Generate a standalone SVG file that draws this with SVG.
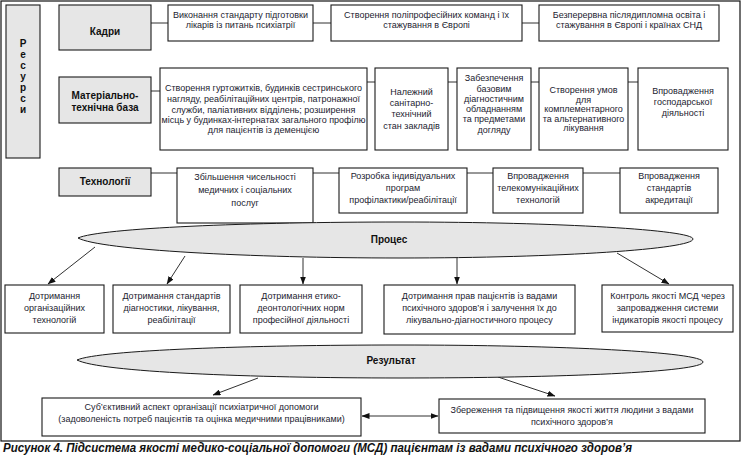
<svg xmlns="http://www.w3.org/2000/svg" width="742" height="460" viewBox="0 0 742 460">
<style>
.box{fill:#fff;stroke:#1a1a1a;stroke-width:1.1}
.lab{fill:#e6e6e6;stroke:#1a1a1a;stroke-width:1.1}
.ell{fill:#e6e6e6;stroke:#1a1a1a;stroke-width:1}
.t{font-family:"Liberation Sans",Arial,sans-serif;font-size:9px;fill:#1c1c30;text-anchor:middle}
.b{font-family:"Liberation Sans",Arial,sans-serif;font-size:10px;font-weight:bold;fill:#111;text-anchor:middle}
.c{fill:none;stroke:#1a1a1a;stroke-width:0.9}
</style>
<defs>
<marker id="ah" markerWidth="8" markerHeight="6" refX="7.5" refY="3" orient="auto-start-reverse" markerUnits="userSpaceOnUse">
<path d="M0,0 L8,3 L0,6 z" fill="#111"/>
</marker>
</defs>
<rect x="1" y="1" width="739" height="440" fill="#fff" stroke="#111" stroke-width="1.2"/>

<g id="connectors">
<path class="c" d="M151,23 H168 M313,23 H331 M522,23 H539"/>
<path class="c" d="M151,91 H160 M367,82 H375 M448,82 H457 M531,82 H539 M628,82 H638"/>
<path class="c" d="M151,173 H177 M313,173 H339 M467,173 H493 M583,173 H620"/>
<path class="c" d="M95,247 L48,284" marker-end="url(#ah)"/>
<path class="c" d="M185,256 L167,284" marker-end="url(#ah)"/>
<path class="c" d="M303,258 L303,284" marker-end="url(#ah)"/>
<path class="c" d="M457,258 L457,284" marker-end="url(#ah)"/>
<path class="c" d="M617,253 L669,284" marker-end="url(#ah)"/>
<path class="c" d="M258,378 L213,395" marker-end="url(#ah)"/>
<path class="c" d="M498,377 L555,396" marker-end="url(#ah)"/>
<path class="c" d="M362,416 L438,416" marker-start="url(#ah)" marker-end="url(#ah)"/>
</g>

<g id="resursy">
<rect class="lab" x="6" y="5" width="34" height="153"/>
<text class="b" font-size="13" x="23" y="47">Р</text>
<text class="b" font-size="13" x="23" y="58">е</text>
<text class="b" font-size="13" x="23" y="69">с</text>
<text class="b" font-size="13" x="23" y="80">у</text>
<text class="b" font-size="13" x="23" y="91">р</text>
<text class="b" font-size="13" x="23" y="102">с</text>
<text class="b" font-size="13" x="23" y="113">и</text>
</g>

<g id="kadry">
<rect class="lab" x="59" y="5" width="92" height="45"/>
<text class="b" x="105" y="35">Кадри</text>
</g>
<g id="k1">
<rect class="box" x="168" y="5" width="145" height="36"/>
<text class="t" x="240.5" y="18">Виконання стандарту підготовки</text>
<text class="t" x="240.5" y="28">лікарів із питань психіатрії</text>
</g>
<g id="k2">
<rect class="box" x="331" y="5" width="191" height="36"/>
<text class="t" x="426.5" y="18">Створення поліпрофесійних команд і їх</text>
<text class="t" x="426.5" y="28">стажування в Європі</text>
</g>
<g id="k3">
<rect class="box" x="539" y="5" width="180" height="36"/>
<text class="t" x="629" y="18">Безперервна післядипломна  освіта і</text>
<text class="t" x="629" y="28">стажування в Європі і країнах СНД</text>
</g>

<g id="mtb">
<rect class="lab" x="59" y="77" width="92" height="46"/>
<text class="b" x="105" y="99">Матеріально-</text>
<text class="b" x="105" y="111">технічна база</text>
</g>
<g id="m1">
<rect class="box" x="160" y="68" width="207" height="82"/>
<text class="t" x="263.5" y="91">Створення гуртожитків, будинків сестринського</text>
<text class="t" x="263.5" y="102">нагляду, реабілітаційних центрів, патронажної</text>
<text class="t" x="263.5" y="113">служби, паліативних відділень; розширення</text>
<text class="t" x="263.5" y="123">місць у будинках-інтернатах загального профілю</text>
<text class="t" x="263.5" y="133">для пацієнтів із деменцією</text>
</g>
<g id="m2">
<rect class="box" x="375" y="68" width="73" height="82"/>
<text class="t" x="411.5" y="95">Належний</text>
<text class="t" x="411.5" y="106">санітарно-</text>
<text class="t" x="411.5" y="117">технічний</text>
<text class="t" x="411.5" y="129">стан закладів</text>
</g>
<g id="m3">
<rect class="box" x="457" y="68" width="74" height="82"/>
<text class="t" x="494" y="81">Забезпечення</text>
<text class="t" x="494" y="92">базовим</text>
<text class="t" x="494" y="102">діагностичним</text>
<text class="t" x="494" y="112">обладнанням</text>
<text class="t" x="494" y="122">та предметами</text>
<text class="t" x="494" y="133">догляду</text>
</g>
<g id="m4">
<rect class="box" x="539" y="68" width="89" height="82"/>
<text class="t" x="583.5" y="93">Створення умов</text>
<text class="t" x="583.5" y="103">для</text>
<text class="t" x="583.5" y="112">комплементарного</text>
<text class="t" x="583.5" y="122">та альтернативного</text>
<text class="t" x="583.5" y="131">лікування</text>
</g>
<g id="m5">
<rect class="box" x="638" y="68" width="90" height="82"/>
<text class="t" font-size="10" x="683" y="94">Впровадження</text>
<text class="t" font-size="10" x="683" y="105">господарської</text>
<text class="t" font-size="10" x="683" y="116">діяльності</text>
</g>

<g id="tech">
<rect class="lab" x="59" y="168" width="92" height="28"/>
<text class="b" x="105" y="185">Технології</text>
</g>
<g id="t1">
<rect class="box" x="177" y="168" width="136" height="55"/>
<text class="t" x="245" y="180">Збільшення чисельності</text>
<text class="t" x="245" y="193">медичних і соціальних</text>
<text class="t" x="245" y="206">послуг</text>
</g>
<g id="t2">
<rect class="box" x="339" y="168" width="128" height="45"/>
<text class="t" x="403" y="179">Розробка індивідуальних</text>
<text class="t" x="403" y="191">програм</text>
<text class="t" x="403" y="203">профілактики/реабілітації</text>
</g>
<g id="t3">
<rect class="box" x="493" y="168" width="90" height="45"/>
<text class="t" x="538" y="179">Впровадження</text>
<text class="t" x="538" y="191">телекомунікаційних</text>
<text class="t" x="538" y="203">технологій</text>
</g>
<g id="t4">
<rect class="box" x="620" y="168" width="98" height="45"/>
<text class="t" x="669" y="179">Впровадження</text>
<text class="t" x="669" y="191">стандартів</text>
<text class="t" x="669" y="203">акредитації</text>
</g>

<g id="proces">
<path class="ell" d="M78,238 C100,228 250,222 400,222 C560,222 693,230 693,239 C693,249 560,258 400,258 C250,258 100,250 78,238 Z"/>
<text class="b" font-size="11.5" x="389" y="243">Процес</text>
</g>

<g id="p1">
<rect class="box" x="5" y="285" width="99" height="48"/>
<text class="t" x="54.5" y="299">Дотримання</text>
<text class="t" x="54.5" y="311">організаційних</text>
<text class="t" x="54.5" y="323">технологій</text>
</g>
<g id="p2">
<rect class="box" x="113" y="285" width="117" height="48"/>
<text class="t" x="171.5" y="299">Дотримання стандартів</text>
<text class="t" x="171.5" y="311">діагностики, лікування,</text>
<text class="t" x="171.5" y="323">реабілітації</text>
</g>
<g id="p3">
<rect class="box" x="240" y="285" width="122" height="48"/>
<text class="t" x="301" y="299">Дотримання етико-</text>
<text class="t" x="301" y="311">деонтологічних норм</text>
<text class="t" x="301" y="323">професійної діяльності</text>
</g>
<g id="p4">
<rect class="box" x="384" y="285" width="191" height="49"/>
<text class="t" x="479.5" y="299">Дотримання прав пацієнтів із вадами</text>
<text class="t" x="479.5" y="311">психічного здоров’я і залучення їх до</text>
<text class="t" x="479.5" y="323">лікувально-діагностичного процесу</text>
</g>
<g id="p5">
<rect class="box" x="602" y="285" width="131" height="47"/>
<text class="t" x="667.5" y="299">Контроль якості МСД через</text>
<text class="t" x="667.5" y="311">запровадження системи</text>
<text class="t" x="667.5" y="323">індикаторів якості процесу</text>
</g>

<g id="rezultat">
<path class="ell" d="M77,360 C100,350 250,345 400,345 C560,345 703,352 703,362 C703,372 560,378 400,378 C250,378 100,372 77,360 Z"/>
<text class="b" font-size="11.5" x="391" y="364">Результат</text>
</g>

<g id="r1">
<rect class="box" x="42" y="398" width="319" height="38"/>
<text class="t" x="201.5" y="410">Суб’єктивний аспект організації психіатричної допомоги</text>
<text class="t" x="201.5" y="422">(задоволеність потреб пацієнтів та оцінка медичними працівниками)</text>
</g>
<g id="r2">
<rect class="box" x="439" y="399" width="266" height="34"/>
<text class="t" x="572" y="413">Збереження та підвищення якості життя людини з вадами</text>
<text class="t" x="572" y="425">психічного здоров’я</text>
</g>

<text x="3" y="452" font-family="'Liberation Sans',Arial,sans-serif" font-size="12" font-weight="bold" font-style="italic" fill="#111" textLength="629" lengthAdjust="spacingAndGlyphs">Рисунок 4. Підсистема якості медико-соціальної допомоги (МСД) пацієнтам із вадами психічного здоров’я</text>
</svg>
